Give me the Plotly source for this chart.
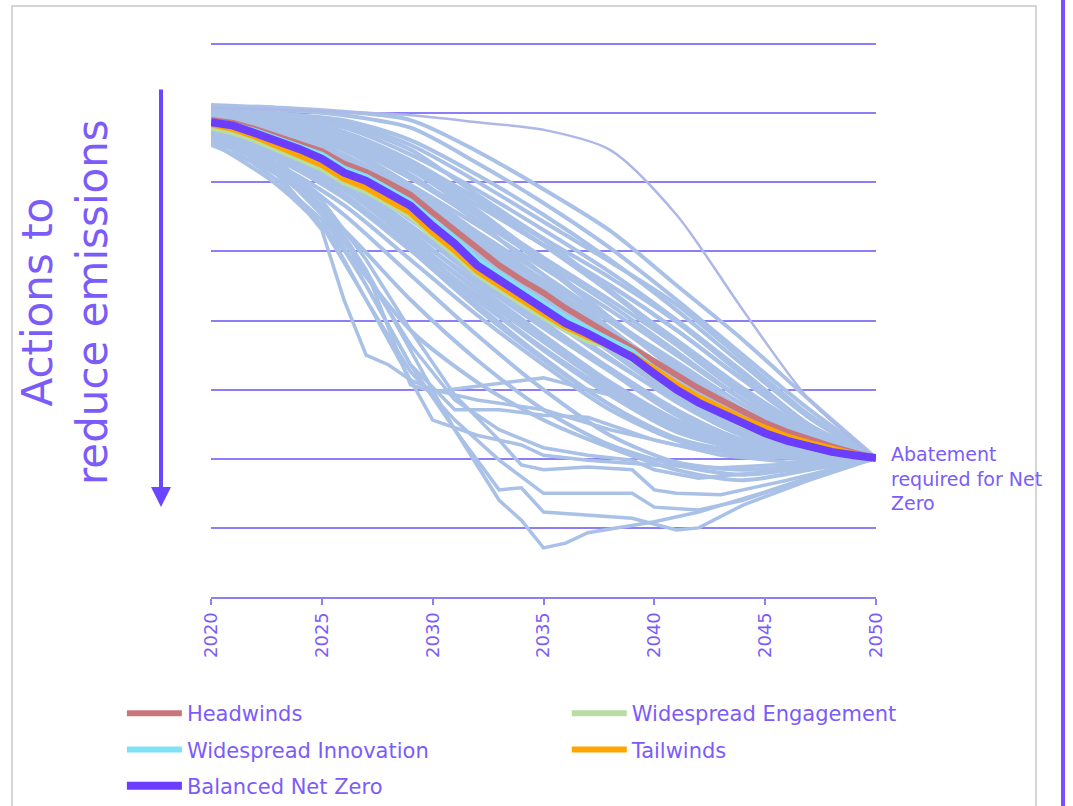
import plotly.graph_objects as go

# ---------------- data ----------------
YEARS = list(range(2020, 2051))

HEADWINDS = [690, 686, 677, 667, 657, 645, 627, 615, 599, 582, 556, 531, 504, 480, 459, 440,
             418, 398, 378, 360, 341, 321, 302, 285, 268, 252, 239, 228, 218, 209, 201]
ENGAGEMENT = [679, 672, 661, 648, 635, 620, 600, 587, 569, 551, 522, 496, 467, 445, 425, 405,
              386, 371, 362, 345, 320, 298, 279, 265, 249, 236, 224, 216, 208, 204, 201]
INNOVATION = [688, 683, 674, 663, 653, 640, 620, 608, 590, 572, 544, 518, 488, 466, 444, 424,
              404, 388, 372, 355, 330, 305, 285, 269, 253, 240, 229, 218, 211, 205, 201]
TAILWINDS = [684, 677, 666, 653, 640, 625, 605, 592, 574, 556, 527, 501, 472, 450, 430, 410,
             391, 376, 363, 350, 330, 308, 289, 273, 258, 245, 232, 223, 214, 207, 201]
BALANCED = [687, 682, 671, 660, 648, 634, 614, 602, 585, 566, 537, 511, 480, 459, 437, 417,
            396, 381, 365, 347, 323, 300, 281, 266, 250, 237, 226, 217, 210, 205, 201]

SCENARIO_NAMES = ["Headwinds", "Widespread Engagement", "Widespread Innovation",
                  "Tailwinds", "Balanced Net Zero"]

# other pathways (smooth), sampled every 3 years
SMOOTH_YEARS = [2020, 2023, 2026, 2029, 2032, 2035, 2038, 2041, 2044, 2047, 2050]
OUTLIER = [708, 705, 702, 697, 687, 676, 647, 553, 415, 285, 201]
SMOOTH_LINES = [
    [712, 708, 702, 690, 645, 590, 530, 451, 372, 285, 201],
    [708, 705, 697, 679, 628, 570, 505, 430, 350, 271, 201],
    [702, 699, 690, 661, 611, 553, 488, 415, 336, 259, 201],
    [697, 695, 679, 640, 589, 531, 470, 401, 326, 249, 201],
    [705, 700, 687, 654, 601, 543, 485, 423, 343, 263, 201],
    [693, 687, 669, 625, 567, 509, 451, 386, 314, 245, 201],
    [700, 697, 683, 647, 582, 519, 462, 398, 321, 249, 201],
    [693, 683, 661, 618, 567, 509, 451, 386, 314, 249, 201],
    [690, 679, 654, 606, 553, 491, 430, 365, 297, 239, 201],
    [687, 676, 647, 596, 538, 476, 415, 350, 285, 230, 201],
    [697, 687, 664, 625, 574, 517, 441, 372, 302, 242, 201],
    [683, 669, 635, 582, 519, 459, 398, 331, 271, 224, 201],
    [679, 664, 629, 574, 509, 444, 379, 314, 256, 216, 201],
    [690, 676, 640, 586, 528, 466, 401, 340, 278, 227, 201],
    [676, 658, 618, 560, 495, 430, 365, 300, 245, 213, 201],
    [684, 670, 632, 567, 502, 433, 369, 302, 249, 217, 201],
    [693, 679, 647, 589, 517, 447, 375, 307, 249, 216, 201],
    [673, 654, 611, 546, 476, 408, 343, 285, 234, 210, 201],
    [682, 664, 621, 553, 485, 412, 346, 282, 233, 210, 201],
    [669, 647, 603, 534, 462, 394, 328, 268, 227, 207, 201],
    [687, 669, 625, 560, 491, 423, 355, 288, 239, 213, 201],
    [664, 640, 589, 517, 444, 372, 307, 249, 216, 204, 201],
    [679, 654, 603, 528, 451, 379, 311, 253, 219, 205, 201],
    [661, 632, 577, 502, 430, 357, 292, 239, 213, 203, 201],
    [669, 640, 582, 505, 423, 346, 278, 230, 210, 203, 201],
    [676, 647, 592, 514, 433, 360, 297, 245, 216, 204, 201],
    [658, 625, 567, 488, 408, 336, 271, 227, 207, 201, 201],
    [696, 684, 661, 621, 560, 485, 404, 326, 256, 216, 201],
    [690, 682, 658, 611, 543, 466, 389, 317, 259, 219, 201],
    [683, 673, 647, 592, 524, 451, 383, 321, 263, 221, 201],
    [705, 693, 669, 625, 557, 480, 404, 336, 271, 224, 201],
    [671, 650, 596, 524, 456, 389, 326, 263, 224, 205, 201],
    [664, 635, 582, 509, 437, 369, 302, 242, 213, 203, 201],
    [661, 625, 553, 466, 379, 300, 234, 195, 184, 191, 201],
    [654, 611, 531, 430, 343, 271, 220, 191, 177, 188, 201],
    [658, 596, 502, 386, 311, 256, 216, 184, 169, 184, 201],
    [702, 693, 673, 632, 574, 509, 441, 365, 292, 234, 201],
    [693, 682, 654, 606, 546, 485, 423, 355, 285, 227, 201],
    [683, 669, 632, 574, 514, 451, 386, 321, 259, 219, 201],
    [679, 661, 618, 557, 491, 423, 357, 292, 239, 210, 201],
    [687, 673, 635, 577, 509, 437, 365, 297, 242, 213, 201],
    [696, 687, 664, 618, 553, 480, 404, 331, 268, 220, 201],
    [676, 654, 606, 538, 466, 398, 331, 271, 227, 207, 201],
    [690, 679, 650, 596, 528, 456, 386, 317, 256, 217, 201],
    [669, 644, 592, 519, 444, 375, 311, 256, 220, 205, 201],
    [699, 690, 669, 629, 577, 517, 444, 369, 297, 233, 201],
    [682, 670, 629, 567, 495, 430, 369, 307, 249, 214, 201],
    [661, 635, 582, 502, 418, 343, 278, 227, 205, 201, 201],
]

# other pathways (irregular), each with its own years
JAGGED_LINES = [
    ([2020, 2023, 2025, 2027, 2029, 2030, 2032, 2035, 2038, 2041, 2044, 2047, 2050],
     [679, 625, 574, 473, 307, 297, 305, 317, 292, 256, 227, 210, 201]),
    ([2020, 2023, 2025, 2026, 2027, 2028, 2029, 2030, 2032, 2035, 2038, 2041, 2044, 2047, 2050],
     [676, 611, 531, 430, 350, 336, 314, 300, 285, 271, 242, 220, 210, 204, 201]),
    ([2020, 2023, 2025, 2027, 2029, 2031, 2033, 2035, 2037, 2040, 2043, 2046, 2050],
     [673, 615, 560, 451, 336, 271, 271, 263, 260, 227, 205, 195, 201]),
    ([2020, 2023, 2025, 2027, 2029, 2030, 2032, 2034, 2035, 2037, 2040, 2043, 2046, 2050],
     [669, 603, 546, 430, 314, 256, 234, 220, 205, 198, 191, 187, 192, 201]),
    ([2020, 2023, 2025, 2027, 2029, 2031, 2033, 2034, 2035, 2036, 2037, 2040, 2042, 2045, 2048, 2050],
     [679, 625, 567, 473, 357, 242, 140, 111, 71, 78, 93, 109, 123, 152, 184, 201]),
    ([2020, 2023, 2025, 2027, 2029, 2031, 2033, 2034, 2035, 2037, 2039, 2041, 2042, 2044, 2047, 2050],
     [676, 618, 553, 451, 336, 242, 155, 158, 123, 119, 114, 97, 100, 133, 169, 201]),
    ([2020, 2023, 2025, 2027, 2029, 2031, 2033, 2034, 2035, 2037, 2039, 2040, 2041, 2043, 2046, 2050],
     [682, 632, 574, 488, 386, 292, 227, 191, 184, 188, 184, 155, 150, 148, 169, 201]),
    ([2020, 2023, 2025, 2027, 2029, 2031, 2033, 2035, 2038, 2039, 2040, 2042, 2044, 2047, 2050],
     [673, 611, 538, 430, 326, 256, 198, 150, 150, 150, 130, 126, 140, 172, 201]),
    ([2020, 2023, 2025, 2027, 2029, 2031, 2033, 2035, 2037, 2039, 2040, 2042, 2045, 2050],
     [679, 621, 563, 466, 365, 285, 242, 216, 205, 198, 184, 172, 181, 201]),
]

X_TICKS = [2020, 2025, 2030, 2035, 2040, 2045, 2050]

# ---------------- style ----------------
FONT = "DejaVu Sans"
TEXT_COLOR = "#7B5CFA"
GRID_COLOR = "#8C7EF6"
SPAG_COLOR = "#A9C1E7"
SCENARIO_COLORS = ["#C8767B", "#B9DCA2", "#7FE1F3", "#FFA500", "#6B3DFF"]
SCENARIO_WIDTHS = [6, 6, 6, 6, 8]
SCENARIO_LEGENDS = ["legend", "legend2", "legend", "legend2", "legend"]

fig = go.Figure()

for vals in SMOOTH_LINES:
    fig.add_trace(go.Scatter(x=SMOOTH_YEARS, y=vals, mode="lines",
                             line=dict(color=SPAG_COLOR, width=4, shape="spline", smoothing=0.8),
                             showlegend=False, hoverinfo="skip"))
for yrs, vals in JAGGED_LINES:
    fig.add_trace(go.Scatter(x=yrs, y=vals, mode="lines",
                             line=dict(color=SPAG_COLOR, width=3.5),
                             showlegend=False, hoverinfo="skip"))
fig.add_trace(go.Scatter(x=SMOOTH_YEARS, y=OUTLIER, mode="lines",
                         line=dict(color="#AEB8E6", width=2.5, shape="spline", smoothing=0.8),
                         showlegend=False, hoverinfo="skip"))

for name, vals, col, w, lg in zip(SCENARIO_NAMES,
                                  [HEADWINDS, ENGAGEMENT, INNOVATION, TAILWINDS, BALANCED],
                                  SCENARIO_COLORS, SCENARIO_WIDTHS, SCENARIO_LEGENDS):
    fig.add_trace(go.Scatter(x=YEARS, y=vals, mode="lines", name=name,
                             line=dict(color=col, width=w),
                             legend=lg, legendgroup=name))

legend_common = dict(orientation="v", xanchor="left", yanchor="top",
                     traceorder="grouped", tracegroupgap=6,
                     bgcolor="rgba(0,0,0,0)", borderwidth=0, itemwidth=55,
                     font=dict(family=FONT, size=21, color=TEXT_COLOR))

fig.update_layout(
    width=1073, height=806,
    margin=dict(l=211, r=197, t=42, b=209, autoexpand=False),
    paper_bgcolor="white", plot_bgcolor="white",
    font=dict(family=FONT, color=TEXT_COLOR),
    xaxis=dict(range=[2020, 2050], tickvals=X_TICKS, ticktext=[str(t) for t in X_TICKS],
               tickangle=-90, ticks="outside", ticklen=6, tickwidth=2,
               tickcolor=GRID_COLOR, showline=True, linecolor=GRID_COLOR, linewidth=2,
               showgrid=False, zeroline=False,
               tickfont=dict(family=FONT, size=18, color=TEXT_COLOR)),
    yaxis=dict(range=[0, 803], tickvals=[100, 200, 300, 400, 500, 600, 700, 800],
               showgrid=True, gridcolor=GRID_COLOR, gridwidth=1.5,
               showticklabels=False, zeroline=False, showline=False, ticks=""),
    legend=dict(x=-0.134, y=-0.173, **legend_common),
    legend2=dict(x=0.535, y=-0.173, **legend_common),
    showlegend=True,
)

fig.add_annotation(text="Actions to<br>reduce emissions", xref="paper", yref="paper",
                   x=-0.2195, y=0.5315, xanchor="center", yanchor="middle",
                   textangle=-90, showarrow=False, align="center",
                   font=dict(family=FONT, size=42, color=TEXT_COLOR))
fig.add_annotation(text="", xref="paper", yref="paper", x=-0.0752, y=0.1622,
                   ax=0, ay=-419, showarrow=True, arrowhead=2, arrowsize=1,
                   arrowwidth=4, arrowcolor="#6B45FF", standoff=0)
fig.add_annotation(text="Abatement<br>required for Net<br>Zero", xref="paper", yref="paper",
                   x=1.0195, y=0.2144, xanchor="left", yanchor="middle",
                   showarrow=False, align="left",
                   font=dict(family=FONT, size=19, color=TEXT_COLOR))

fig.add_shape(type="rect", xref="paper", yref="paper", x0=-0.2992, x1=1.2406,
              y0=-0.40, y1=1.0649, line=dict(color="#C8C8C8", width=1.5),
              fillcolor="rgba(0,0,0,0)", layer="below")
fig.add_shape(type="line", xref="paper", yref="paper", x0=1.2812, x1=1.2812,
              y0=-0.40, y1=1.2, line=dict(color="#7A4DFF", width=4))

fig.write_html("out.html", config={"displayModeBar": False},
               post_script="document.body.style.margin='0px';document.body.style.overflow='hidden';")
